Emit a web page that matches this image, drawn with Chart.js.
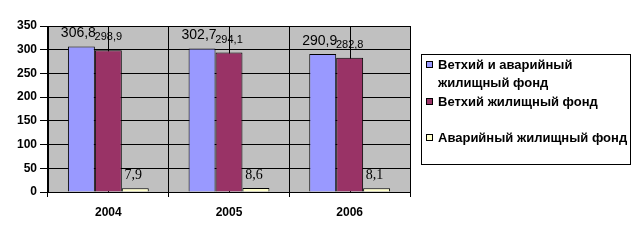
<!DOCTYPE html>
<html>
<head>
<meta charset="utf-8">
<script src="https://cdn.jsdelivr.net/npm/chart.js@4"></script>
<style>
  html, body { margin: 0; padding: 0; background: #fff; }
  #wrap { width: 642px; height: 240px; position: relative; }
</style>
</head>
<body>
<div id="wrap"><canvas id="chart"></canvas></div>
<script>
const years = ['2004', '2005', '2006'];
const seriesNames = [['Ветхий и аварийный', 'жилищный фонд'], 'Ветхий жилищный фонд', 'Аварийный жилищный фонд'];
const totalFund = [306.8, 302.7, 290.9];
const oldFund = [298.9, 294.1, 282.8];
const emergencyFund = [7.9, 8.6, 8.1];
const yTicks = [0, 50, 100, 150, 200, 250, 300, 350];

const colors = ['#9999FF', '#993366', '#FFFFCC'];
const labelFonts = ['14px "Liberation Sans"', '11px "Liberation Sans"', '14px "Liberation Serif"'];
const labelDx = [-3, 0, -2];
const legendY = [[65, 83], [102], [138]];

function fmt(v) { return v.toFixed(1).replace('.', ','); }

const plotBg = {
    id: 'plotBg',
    beforeDraw(chart) {
        const { ctx, chartArea: a } = chart;
        ctx.save();
        ctx.fillStyle = '#C0C0C0';
        ctx.fillRect(a.left, a.top, a.right - a.left, a.bottom - a.top);
        ctx.strokeStyle = '#808080';
        ctx.beginPath();
        ctx.moveTo(a.right + 0.5, a.top);
        ctx.lineTo(a.right + 0.5, a.bottom);
        ctx.stroke();
        ctx.restore();
    },
    beforeDatasetsDraw(chart) {
        // extra vertical lines at category centres
        const { ctx, chartArea: a } = chart;
        const xs = chart.scales.x;
        ctx.save();
        ctx.strokeStyle = '#000';
        ctx.lineWidth = 1;
        years.forEach((y, i) => {
            const x = Math.round(xs.getPixelForValue(i)) + 0.5;
            ctx.beginPath();
            ctx.moveTo(x, a.top);
            ctx.lineTo(x, a.bottom);
            ctx.stroke();
        });
        ctx.restore();
    }
};

const valueLabels = {
    id: 'valueLabels',
    afterDatasetsDraw(chart) {
        const { ctx } = chart;
        ctx.save();
        ctx.fillStyle = '#000';
        ctx.textAlign = 'center';
        ctx.textBaseline = 'middle';
        chart.data.datasets.forEach((ds, di) => {
            ctx.font = labelFonts[di];
            chart.getDatasetMeta(di).data.forEach((bar, i) => {
                ctx.fillText(fmt(ds.data[i]), bar.x + labelDx[di], bar.y - 13);
            });
        });
        ctx.restore();
    }
};

const boxLegend = {
    id: 'boxLegend',
    afterDraw(chart) {
        const { ctx } = chart;
        ctx.save();
        ctx.strokeStyle = '#000';
        ctx.lineWidth = 1;
        ctx.strokeRect(421.5, 54.5, 209, 110);
        ctx.font = 'bold 13px "Liberation Sans"';
        ctx.textBaseline = 'middle';
        ctx.textAlign = 'left';
        chart.data.datasets.forEach((ds, di) => {
            const lines = Array.isArray(seriesNames[di]) ? seriesNames[di] : [seriesNames[di]];
            const y0 = legendY[di][0];
            ctx.fillStyle = ds.backgroundColor;
            ctx.fillRect(426, y0 - 4, 7, 7);
            ctx.strokeStyle = '#000';
            ctx.strokeRect(426.5, y0 - 3.5, 6, 6);
            ctx.fillStyle = '#000';
            lines.forEach((t, li) => ctx.fillText(t, 438, legendY[di][li]));
        });
        ctx.restore();
    }
};

new Chart(document.getElementById('chart'), {
    type: 'bar',
    data: {
        labels: years,
        datasets: [totalFund, oldFund, emergencyFund].map((d, i) => ({
            label: Array.isArray(seriesNames[i]) ? seriesNames[i].join(' ') : seriesNames[i],
            data: d,
            backgroundColor: colors[i],
            borderColor: '#000',
            borderWidth: 1,
            categoryPercentage: 0.67,
            barPercentage: 1.0
        }))
    },
    options: {
        responsive: true,
        maintainAspectRatio: false,
        animation: false,
        layout: { padding: { top: 26, right: 232, left: 0, bottom: 0 } },
        plugins: {
            legend: { display: false },
            tooltip: { enabled: false }
        },
        scales: {
            x: {
                grid: { color: '#000', tickLength: 5, offset: true },
                border: { color: '#000' },
                ticks: { color: '#000', font: { family: 'Liberation Sans', size: 12, weight: 'bold' }, padding: 8 },
                afterFit(s) { s.height = 48; }
            },
            y: {
                min: 0,
                max: 350,
                afterBuildTicks(s) { s.ticks = yTicks.map(v => ({ value: v })); },
                grid: { color: '#000', tickLength: 8 },
                border: { color: '#000' },
                ticks: { color: '#000', font: { family: 'Liberation Sans', size: 12, weight: 'bold' }, padding: 3 },
                afterFit(s) { s.width = 48; }
            }
        }
    },
    plugins: [plotBg, valueLabels, boxLegend]
});
</script>
</body>
</html>
